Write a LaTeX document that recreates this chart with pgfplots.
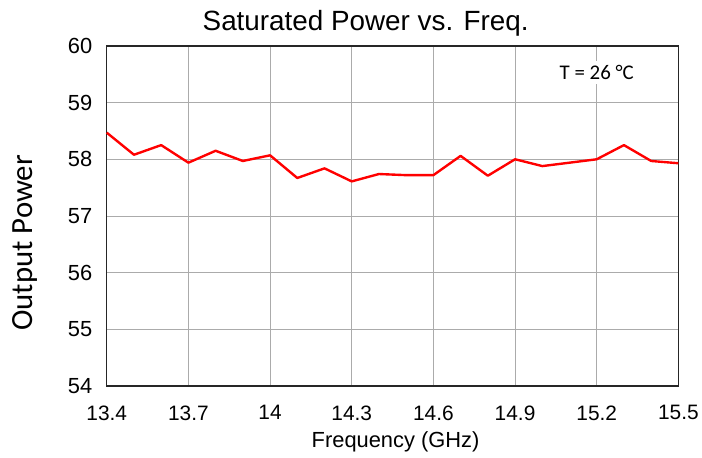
\documentclass[border=0pt]{standalone}
\usepackage{fontspec}
\setmainfont{Liberation Sans}
\newfontfamily\carlito{Carlito}
\usepackage{pgfplots}
\pgfplotsset{compat=1.18}
\begin{document}
\begin{tikzpicture}
\begin{axis}[
  scale only axis,
  width=573bp, height=341bp,
  xmin=13.4, xmax=15.5, ymin=54, ymax=60,
  xtick={13.4,13.7,14,14.3,14.6,14.9,15.2,15.5},
  xticklabels={13.4,13.7,14,14.3,14.6,14.9,15.2,15.5},
  ytick={54,55,56,57,58,59,60},
  /pgf/number format/assume math mode=true,
  major tick length=0pt,
  xmajorgrids, ymajorgrids,
  grid style={draw=black!33, line width=0.9pt},
  axis line style={draw=black!85, line width=1.5pt},
  xticklabel style={font=\fontsize{21}{21}\selectfont, yshift=-16bp},
  yticklabel style={font=\fontsize{22}{22}\selectfont, xshift=-11bp},
  title={Saturated Power vs. Freq.},
  title style={font=\fontsize{28}{28}\selectfont, at={([xshift=-27bp,yshift=17bp]rel axis cs:0.5,1)}, anchor=center},
  xlabel={Frequency (GHz)},
  xlabel style={font=\fontsize{22}{22}\selectfont, at={([xshift=3bp,yshift=-56bp]rel axis cs:0.5,0)}, anchor=center},
  ylabel={\carlito Output Power},
  ylabel style={font=\fontsize{31}{31}\selectfont, at={([xshift=-82bp,yshift=-27bp]rel axis cs:0,0.5)}, anchor=center},
  clip=false,
]
\addplot[red, line width=2.4pt, line join=round] coordinates {
(13.4,58.47) (13.5,58.08) (13.6,58.25) (13.7,57.94) (13.8,58.15)
(13.9,57.97) (14.0,58.07) (14.1,57.67) (14.2,57.84) (14.3,57.61)
(14.4,57.74) (14.5,57.72) (14.6,57.72) (14.7,58.06) (14.8,57.71)
(14.9,58.00) (15.0,57.88) (15.1,57.94) (15.2,58.00) (15.3,58.25)
(15.4,57.97) (15.5,57.93)
};
\node[fill=white, inner sep=4bp, font=\carlito\fontsize{21}{21}\selectfont] at (axis cs:15.2,59.53) {T = 26 °C};
\end{axis}
\path[use as bounding box] ([xshift=-107bp,yshift=-72bp]current axis.south west) rectangle ([xshift=22bp,yshift=46bp]current axis.north east);
\end{tikzpicture}
\end{document}
